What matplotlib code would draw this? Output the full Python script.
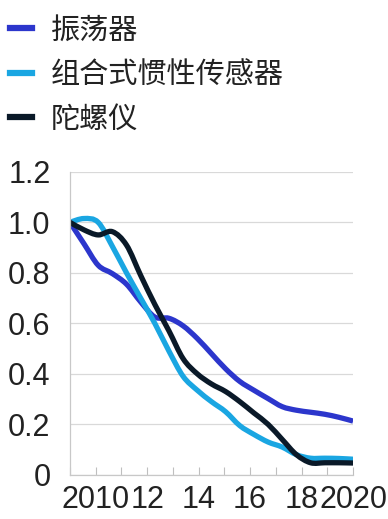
"""
功能：绘制三类传感器价格走势（2010 = 1.0）
"""
import matplotlib.pyplot as plt
from matplotlib.lines import Line2D
from matplotlib.patches import PathPatch
from matplotlib.path import Path

# 横坐标：2010 - 2020 每半年一个点
years = [2010.0, 2010.5, 2011.0, 2011.5, 2012.0, 2012.5, 2013.0, 2013.5,
         2014.0, 2014.5, 2015.0, 2015.5, 2016.0, 2016.5, 2017.0, 2017.5,
         2018.0, 2018.5, 2019.0, 2019.5, 2020.0]

# 各序列数值
oscillator = [1.0, 0.915, 0.83, 0.797, 0.755, 0.685, 0.625, 0.62,
              0.59, 0.54, 0.48, 0.42, 0.37, 0.335, 0.302, 0.27,
              0.256, 0.248, 0.24, 0.228, 0.213]
imu = [1.0, 1.015, 1.0, 0.905, 0.80, 0.70, 0.60, 0.49,
       0.39, 0.335, 0.29, 0.25, 0.195, 0.16, 0.13, 0.11,
       0.08, 0.066, 0.066, 0.065, 0.062]
gyro = [1.0, 0.97, 0.95, 0.963, 0.91, 0.79, 0.675, 0.57,
        0.46, 0.40, 0.36, 0.33, 0.29, 0.245, 0.20, 0.14,
        0.08, 0.048, 0.048, 0.048, 0.047]

series_names = ['振荡器', '组合式惯性传感器', '陀螺仪']
series_colors = ['#2c36cc', '#1aa6e2', '#0a1928']

# 刻度：12 个刻度线，奇数位置上写年份
tick_pos = [2010 + i * 10 / 11 for i in range(12)]
tick_labels = ['', '2010', '', '12', '', '14', '', '16', '', '18', '', '2020']
y_ticks = [0, 0.2, 0.4, 0.6, 0.8, 1.0, 1.2]
y_labels = ['0', '0.2', '0.4', '0.6', '0.8', '1.0', '1.2']


def smooth_path(xs, ys):
    """
    把折线变成平滑曲线（Catmull-Rom 转三次贝塞尔），只影响画法
    """
    pts = list(zip(xs, ys))
    n = len(pts)
    verts = [pts[0]]
    codes = [Path.MOVETO]
    for i in range(n - 1):
        p0 = pts[max(i - 1, 0)]
        p1 = pts[i]
        p2 = pts[i + 1]
        p3 = pts[min(i + 2, n - 1)]
        c1 = (p1[0] + (p2[0] - p0[0]) / 6, p1[1] + (p2[1] - p0[1]) / 6)
        c2 = (p2[0] - (p3[0] - p1[0]) / 6, p2[1] - (p3[1] - p1[1]) / 6)
        verts += [c1, c2, p2]
        codes += [Path.CURVE4] * 3
    return Path(verts, codes)


def main():
    """
    主函数
    """
    plt.rcParams['font.family'] = ['Liberation Sans', 'Noto Sans CJK SC', 'DejaVu Sans']

    fig = plt.figure(figsize=(3.88, 5.19), dpi=100)
    ax = fig.add_axes([0.180, 0.085, 0.730, 0.584])

    handles = []
    for vals, name, c in zip([oscillator, imu, gyro], series_names, series_colors):
        patch = PathPatch(smooth_path(years, vals), fill=False, edgecolor=c,
                          lw=3.8, joinstyle='round', capstyle='butt')
        ax.add_patch(patch)
        handles.append(Line2D([], [], color=c, lw=4.5, label=name))

    ax.set_xlim(2010, 2020)
    ax.set_ylim(0, 1.2)

    ax.set_yticks(y_ticks)
    ax.set_yticklabels(y_labels)
    ax.set_xticks(tick_pos)
    ax.set_xticklabels(tick_labels)

    ax.tick_params(axis='y', length=0, pad=14, labelsize=22, colors='#222222')
    ax.tick_params(axis='x', direction='in', length=6, width=0.8, color='#bfbfbf',
                   pad=7, labelsize=22, labelcolor='#222222')

    # 网格线和坐标轴
    ax.grid(axis='y', color='#d9d9d9', lw=0.9)
    ax.set_axisbelow(True)
    for s in ['top', 'right']:
        ax.spines[s].set_visible(False)
    for s in ['left', 'bottom']:
        ax.spines[s].set_color('#c8c8c8')
        ax.spines[s].set_linewidth(0.9)

    # 图例放在图的上方
    leg = fig.legend(handles=handles, loc='upper left', bbox_to_anchor=(0.0, 0.990),
                     frameon=False, handlelength=0.75, handletextpad=0.65,
                     labelspacing=0.5, borderaxespad=0.0, borderpad=0.35,
                     prop={'family': ['Noto Sans CJK SC', 'DejaVu Sans'], 'size': 21})
    for t in leg.get_texts():
        t.set_color('#222222')

    plt.savefig('out.png', dpi=100)


if __name__ == '__main__':
    main()
